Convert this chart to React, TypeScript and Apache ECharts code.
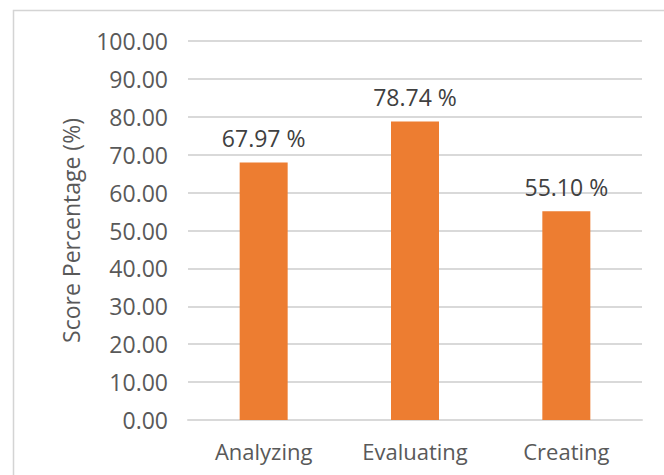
import React, { useEffect, useRef } from "react";
import * as echarts from "echarts";

const categories = ["Analyzing", "Evaluating", "Creating"];
const scores = [67.97, 78.74, 55.1];
const yAxisTitle = "Score Percentage (%)";

export default function App() {
  const ref = useRef<HTMLDivElement>(null);
  useEffect(() => {
    if (!ref.current) return;
    const chart = echarts.init(ref.current, null, { renderer: "svg" });
    const font = "'Open Sans', sans-serif";
    chart.setOption({
      animation: false,
      backgroundColor: "#ffffff",
      graphic: [
        {
          type: "rect",
          shape: { x: 13.5, y: 10.5, width: 700, height: 500 },
          style: { fill: "none", stroke: "#d4d4d4", lineWidth: 1.5 },
          silent: true,
        },
      ],
      grid: { left: 188, right: 22, top: 41, bottom: 55 },
      xAxis: {
        type: "category",
        data: categories,
        axisLine: { show: true, lineStyle: { color: "#d9d9d9", width: 2 } },
        axisTick: { show: false },
        axisLabel: { color: "#595959", fontSize: 22, fontFamily: font, margin: 20 },
      },
      yAxis: {
        type: "value",
        min: 0,
        max: 100,
        interval: 10,
        name: yAxisTitle,
        nameLocation: "middle",
        nameGap: 106,
        nameTextStyle: { color: "#595959", fontSize: 23, fontFamily: font },
        axisLine: { show: false },
        axisTick: { show: false },
        splitLine: { lineStyle: { color: "#d9d9d9", width: 2 } },
        axisLabel: {
          color: "#595959",
          fontSize: 23,
          fontFamily: font,
          margin: 20,
          formatter: (v: number) => v.toFixed(2),
        },
      },
      series: [
        {
          type: "bar",
          data: scores,
          barWidth: 48,
          itemStyle: { color: "#ED7D31" },
          label: {
            show: true,
            position: "top",
            distance: 13,
            color: "#404040",
            fontSize: 23,
            fontFamily: font,
            formatter: (p: any) => p.value.toFixed(2) + " %",
          },
        },
      ],
    });
    return () => chart.dispose();
  }, []);
  return (
    <div
      ref={ref}
      style={{ position: "fixed", left: 0, top: 0, width: 664, height: 475 }}
    />
  );
}
